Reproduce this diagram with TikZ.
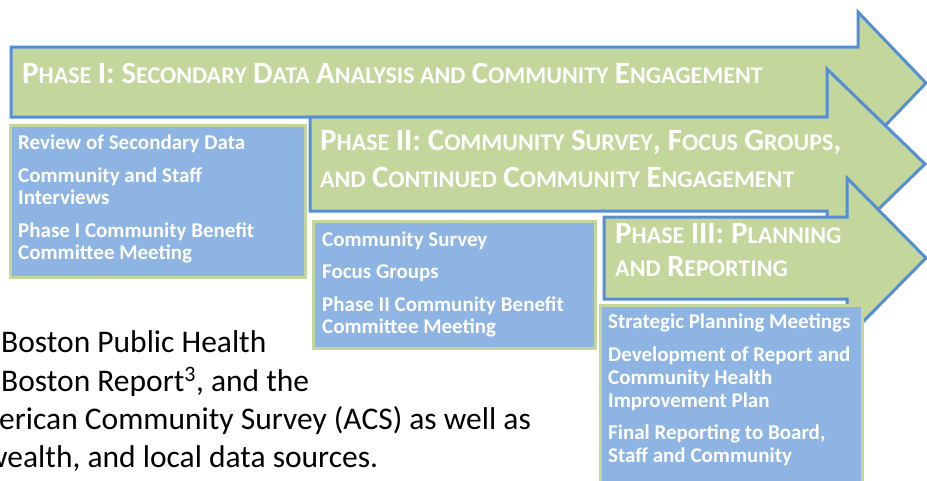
\documentclass[tikz,border=0pt]{standalone}
\usepackage{fontspec}
\setmainfont{Carlito}
\definecolor{arrowfill}{HTML}{C3D69B}
\definecolor{arrowline}{HTML}{558ED5}
\definecolor{boxfill}{HTML}{8DB4E2}
\definecolor{boxline}{HTML}{C3D69B}
\newcommand\bigc[1]{{\fontsize{31}{31}\selectfont #1}}
\newcommand\smc[1]{{\fontsize{24}{24}\selectfont #1}}
\tikzset{
  phasearrow/.style={draw=arrowline, fill=arrowfill, line width=3pt, line join=miter},
  itembox/.style={draw=boxline, fill=boxfill, line width=3pt},
  titletext/.style={anchor=base west, inner sep=0pt, text=white, font=\bfseries\fontsize{28}{30}\selectfont},
  itemtext/.style={anchor=base west, inner sep=0pt, text=white, font=\bfseries\fontsize{21}{24}\selectfont},
  bodytext/.style={anchor=base west, inner sep=0pt, text=black, font=\fontsize{31.5}{36}\selectfont}
}
\begin{document}
\begin{tikzpicture}[x=1pt, y=-1pt]
\useasboundingbox (0,0) rectangle (927,480);
\clip (0,0) rectangle (927,480);

% Phase I arrow
\draw[phasearrow] (11,47) -- (858,47) -- (858,12) -- (926,83) -- (858,154) -- (858,117) -- (11,117) -- cycle;
\node[titletext] (t1) at (22,83) {\bigc{P}\smc{HASE} \bigc{I: S}\smc{ECONDARY} \bigc{D}\smc{ATA} \bigc{A}\smc{NALYSIS AND} \bigc{C}\smc{OMMUNITY} \bigc{E}\smc{NGAGEMENT}};

% Box 1
\draw[itembox] (10,125) rectangle (305,277);
\node[itemtext] (b1a) at (18,149) {Review of Secondary Data};
\node[itemtext] (b1b) at (18,182) {Community and Staff};
\node[itemtext] (b1c) at (18,204) {Interviews};
\node[itemtext] (b1d) at (18,237) {Phase I Community Benefit};
\node[itemtext] (b1e) at (18,259) {Committee Meeting};

% Phase II arrow
\draw[phasearrow] (310,117) -- (827,117) -- (827,69) -- (925,164) -- (827,259) -- (827,211) -- (310,211) -- cycle;
\node[titletext] (t2a) at (320,150) {\bigc{P}\smc{HASE} \bigc{II: C}\smc{OMMUNITY} \bigc{S}\smc{URVEY}\bigc{, F}\smc{OCUS} \bigc{G}\smc{ROUPS}\bigc{,}};
\node[titletext] (t2b) at (320,187) {\smc{AND} \bigc{C}\smc{ONTINUED} \bigc{C}\smc{OMMUNITY} \bigc{E}\smc{NGAGEMENT}};

% Box 2
\draw[itembox] (313,221) rectangle (595,348);
\node[itemtext] (b2a) at (322,246) {Community Survey};
\node[itemtext] (b2b) at (322,278) {Focus Groups};
\node[itemtext] (b2c) at (322,311) {Phase II Community Benefit};
\node[itemtext] (b2d) at (322,333) {Committee Meeting};

% Phase III arrow
\draw[phasearrow] (604,217) -- (847,217) -- (847,178) -- (926,258) -- (847,338) -- (847,299) -- (604,299) -- cycle;
\node[titletext] (t3a) at (615,243) {\bigc{P}\smc{HASE} \bigc{III: P}\smc{LANNING}};
\node[titletext] (t3b) at (615,276) {\smc{AND} \bigc{R}\smc{EPORTING}};

% Box 3
\draw[itembox] (600,305) rectangle (862,495);
\node[itemtext] (b3a) at (608,328) {Strategic Planning Meetings};
\node[itemtext] (b3b) at (608,361) {Development of Report and};
\node[itemtext] (b3c) at (608,384) {Community Health};
\node[itemtext] (b3d) at (608,407) {Improvement Plan};
\node[itemtext] (b3e) at (608,439) {Final Reporting to Board,};
\node[itemtext] (b3f) at (608,462) {Staff and Community};

% Body text
\node[bodytext] (p1) at (1,352) {Boston Public Health};
\node[bodytext] (p2) at (1,391) {Boston Report\textsuperscript{3}, and the};
\node[bodytext] (p3) at (-1,429) {erican Community Survey (ACS) as well as};
\node[bodytext] (p4) at (-15,467) {wealth, and local data sources.};
\end{tikzpicture}
\end{document}
